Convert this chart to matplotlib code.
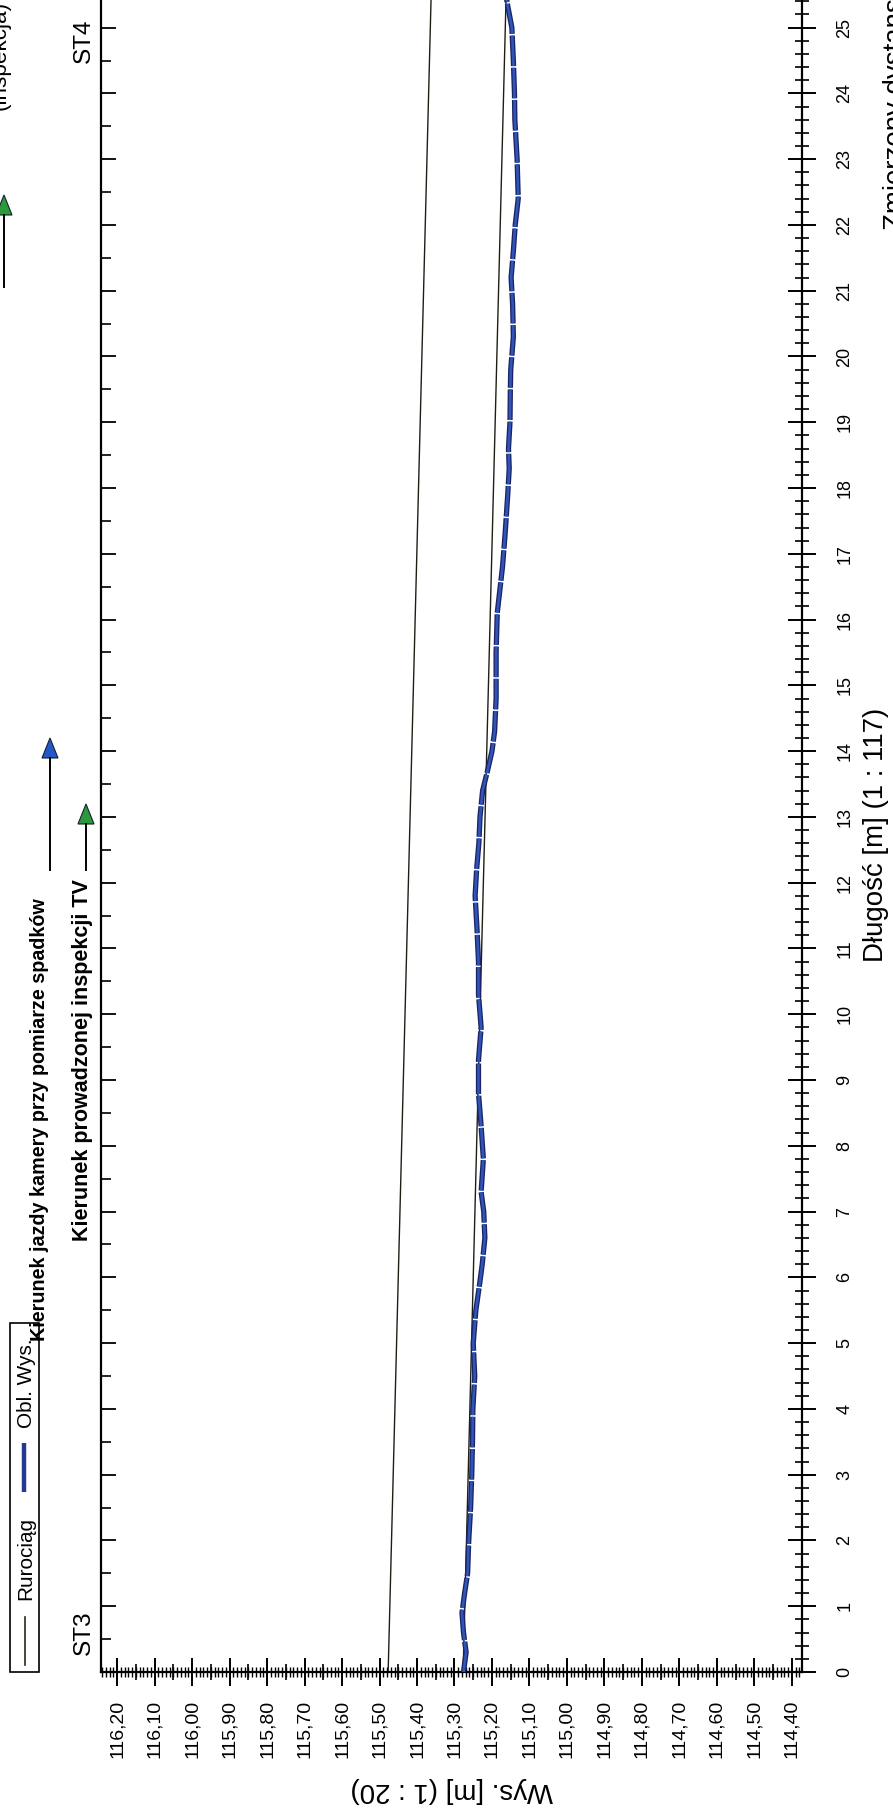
import matplotlib
matplotlib.use("Agg")
import matplotlib.pyplot as plt
import matplotlib.transforms as mtransforms
from matplotlib.ticker import MultipleLocator, FixedLocator, FuncFormatter, NullLocator
from matplotlib.lines import Line2D
from matplotlib.patches import Rectangle, Polygon
from matplotlib import font_manager

# ---------------- data ----------------
dlugosc_obl = [0.0, 0.3, 0.6, 0.9, 1.2, 1.5, 2.0, 2.5, 3.0, 3.5, 4.0, 4.5, 5.0, 5.5,
               5.9, 6.2, 6.6, 7.0, 7.3, 7.8, 8.3, 8.8, 9.3, 9.8, 10.3, 10.8, 11.3,
               11.8, 12.2, 12.6, 13.0, 13.4, 13.7, 14.0, 14.3, 14.8, 15.5, 16.1,
               16.4, 16.8, 17.3, 17.9, 18.3, 18.6, 19.0, 19.5, 19.8, 20.3, 20.8,
               21.2, 21.6, 22.0, 22.4, 23.0, 23.6, 24.0, 24.5, 25.0, 25.3, 25.5]
wys_obl = [115.276, 115.269, 115.276, 115.280, 115.273, 115.265, 115.262, 115.257,
           115.254, 115.252, 115.251, 115.246, 115.250, 115.243, 115.233, 115.226,
           115.219, 115.222, 115.229, 115.223, 115.229, 115.236, 115.236, 115.229,
           115.236, 115.236, 115.240, 115.245, 115.241, 115.235, 115.232, 115.225,
           115.212, 115.200, 115.193, 115.189, 115.189, 115.186, 115.180, 115.172,
           115.165, 115.158, 115.154, 115.156, 115.152, 115.151, 115.150, 115.143,
           115.145, 115.149, 115.143, 115.138, 115.130, 115.133, 115.139, 115.140,
           115.143, 115.147, 115.157, 115.163]
rurociag_dl = [0.0, 26.0]
rurociag_gora = [115.477, 115.360]
rurociag_dol = [115.277, 115.160]
wys_ticks = [116.20, 116.10, 116.00, 115.90, 115.80, 115.70, 115.60, 115.50, 115.40,
             115.30, 115.20, 115.10, 115.00, 114.90, 114.80, 114.70, 114.60, 114.50,
             114.40]
dl_ticks = list(range(0, 26))
studnie = ["ST3", "ST4"]
studnie_dl = [0.6, 24.8]
legend_labels = ["Rurociąg", "Obl. Wys."]

# ---------------- figure ----------------
W, H = 893, 1813
fig = plt.figure(figsize=(W / 100, H / 100), dpi=100)
fig.patch.set_facecolor("white")

names = {f.name for f in font_manager.fontManager.ttflist}
SANS = "Liberation Sans" if "Liberation Sans" in names else "DejaVu Sans"
NARROW = "Liberation Sans Narrow" if "Liberation Sans Narrow" in names else SANS
plt.rcParams["font.family"] = [SANS, "DejaVu Sans"]
plt.rcParams["lines.scale_dashes"] = False


def fx(x):
    return x / W


def fy(y):
    return 1 - y / H


# axes geometry (pixels)
AX_L, AX_R, AX_B, AX_T = 101, 802, 1672, -25
ax = fig.add_axes([fx(AX_L), fy(AX_B), (AX_R - AX_L) / W, (AX_B - AX_T) / H])
ax.set_xlim(116.243, 114.373)
ax.set_ylim(0, 25.80)
ax.set_facecolor("none")

# pipe lines
for vals in (rurociag_gora, rurociag_dol):
    ax.plot(vals, rurociag_dl, color="#1e1e14", lw=1.0, zorder=2)

# measured profile
ax.plot(wys_obl, dlugosc_obl, color="#1b2466", lw=3.8, zorder=3,
        linestyle=(0, (22, 1.2)), dash_capstyle="butt")
ax.plot(wys_obl, dlugosc_obl, color="#2f55b8", lw=1.9, zorder=4,
        linestyle=(0, (22, 1.2)), dash_capstyle="butt")

# spines
for s in ("left", "right", "bottom"):
    ax.spines[s].set_linewidth(1.6)
ax.spines["top"].set_visible(False)

# bottom axis (Wys.)
ax.xaxis.set_major_locator(FixedLocator(wys_ticks))
ax.xaxis.set_minor_locator(MultipleLocator(0.01))
ax.xaxis.set_major_formatter(FuncFormatter(lambda v, p: f"{v:.2f}".replace(".", ",")))
ax.tick_params(axis="x", which="major", direction="inout", length=19.5, width=1.4,
               pad=10.4, labelsize=14, labelrotation=90)
ax.tick_params(axis="x", which="minor", direction="inout", length=7, width=1.0)
secx = ax.secondary_xaxis("bottom")
secx.xaxis.set_major_locator(MultipleLocator(0.05))
secx.xaxis.set_minor_locator(NullLocator())
secx.tick_params(direction="inout", length=12, width=1.2, labelbottom=False)
secx.spines["bottom"].set_visible(False)

# right axis (Długość)
ax.yaxis.set_ticks_position("right")
ax.yaxis.set_major_locator(FixedLocator(dl_ticks))
ax.yaxis.set_minor_locator(MultipleLocator(0.2))
ax.tick_params(axis="y", which="major", direction="inout", length=19.5, width=1.4,
               pad=15, labelsize=13, labelrotation=90)
ax.tick_params(axis="y", which="minor", direction="inout", length=10, width=1.2)
for lab in ax.get_yticklabels():
    lab.set_va("center")
    lab.set_family([NARROW, "DejaVu Sans"])

# left spine ticks pointing inward
secy = ax.secondary_yaxis("left")
secy.yaxis.set_major_locator(MultipleLocator(1))
secy.yaxis.set_minor_locator(MultipleLocator(0.5))
secy.tick_params(which="major", direction="in", length=11, width=1.3, labelleft=False)
secy.tick_params(which="minor", direction="in", length=7, width=1.2)
secy.spines["left"].set_visible(False)

renderer = fig.canvas.get_renderer()


def fit(t, target):
    bb = t.get_window_extent(renderer)
    cur = max(bb.width, bb.height)
    t.set_fontsize(t.get_fontsize() * target / cur)
    return t


# station labels (x in figure px, y in data)
blend = mtransforms.blended_transform_factory(fig.transFigure, ax.transData)
for name, pos in zip(studnie, studnie_dl):
    t = ax.text(fx(84), pos, name, transform=blend, rotation=90, ha="center",
                va="center", fontsize=18, clip_on=False)
    fit(t, 45)

# direction texts and arrows
t1 = fig.text(fx(40), fy(1120), "Kierunek jazdy kamery przy pomiarze spadków",
              rotation=90, ha="center", va="center", fontsize=12, weight="bold",
              family=[NARROW, "DejaVu Sans"])
fit(t1, 439)
t2 = fig.text(fx(83), fy(1060), "Kierunek prowadzonej inspekcji TV",
              rotation=90, ha="center", va="center", fontsize=12, weight="bold",
              family=[NARROW, "DejaVu Sans"])
fit(t2, 359)


def arrow(x, y0, tip, fc):
    base = tip + 20
    fig.add_artist(Line2D([fx(x), fx(x)], [fy(y0), fy(base)], color="black", lw=1.4))
    fig.add_artist(Polygon([(fx(x - 8), fy(base)), (fx(x + 8), fy(base)), (fx(x), fy(tip))],
                           closed=True, fc=fc, ec="#152030", lw=0.8,
                           transform=fig.transFigure))


arrow(50, 870, 738, "#2457c8")
arrow(86, 870, 804, "#2a9a3c")
arrow(4, 287, 195, "#2a9a3c")

t3 = fig.text(fx(0), fy(55), "(inspekcja)", rotation=90, ha="center", va="center",
              fontsize=12)
fit(t3, 109)

# axis titles
tl = fig.text(fx(876), fy(835), "Długość [m] (1 : 117)", rotation=90, ha="center",
              va="center", fontsize=16, family=[NARROW, "DejaVu Sans"])
fit(tl, 255)
tz = fig.text(fx(896), fy(230), "Zmierzony dystans", rotation=90, ha="center",
              va="bottom", fontsize=tl.get_fontsize(), family=[NARROW, "DejaVu Sans"])
tw = fig.text(fx(452), fy(1790), "Wys. [m] (1 : 20)", rotation=180, ha="center",
              va="center", fontsize=15)
fit(tw, 203)

# legend (rotated)
fig.add_artist(Rectangle((fx(10), fy(1672)), 29 / W, 349 / H, fill=False, lw=1.2,
                         ec="black", transform=fig.transFigure))
fig.add_artist(Line2D([fx(25), fx(25)], [fy(1665), fy(1617)], color="#2a2a10", lw=1.2))
tr = fig.text(fx(26), fy(1558), legend_labels[0], rotation=90, ha="center",
              va="center", fontsize=11)
fit(tr, 83)
fig.add_artist(Line2D([fx(24), fx(24)], [fy(1492), fy(1443)], color="#22398f", lw=3.2,
                      solid_capstyle="butt"))
to = fig.text(fx(26), fy(1383), legend_labels[1], rotation=90, ha="center",
              va="center", fontsize=11)
fit(to, 89)

fig.savefig("out.png", dpi=100)
